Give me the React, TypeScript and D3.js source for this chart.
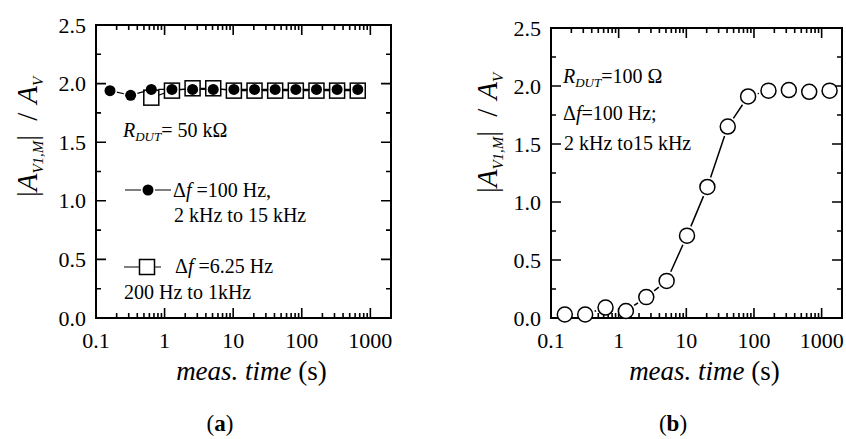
import * as d3 from "d3";

// measurement times (s)
const timesA = [0.16, 0.32, 0.64, 1.28, 2.56, 5.12, 10.24, 20.48, 40.96, 81.92, 163.84, 327.68, 655.36];
// df = 100 Hz, 2 kHz to 15 kHz (filled circles)
const circlesA = [1.94, 1.9, 1.95, 1.95, 1.95, 1.95, 1.95, 1.95, 1.95, 1.95, 1.95, 1.95, 1.95];
// df = 6.25 Hz, 200 Hz to 1 kHz (open squares), starts at 0.64 s
const timesSq = [0.64, 1.28, 2.56, 5.12, 10.24, 20.48, 40.96, 81.92, 163.84, 327.68, 655.36];
const squaresA = [1.88, 1.94, 1.96, 1.96, 1.94, 1.94, 1.94, 1.94, 1.94, 1.94, 1.94];

// panel (b): R_DUT = 100 ohm
const timesB = [0.16, 0.32, 0.64, 1.28, 2.56, 5.12, 10.24, 20.48, 40.96, 81.92, 163.84, 327.68, 655.36, 1310.72];
const valuesB = [0.03, 0.03, 0.09, 0.06, 0.18, 0.32, 0.71, 1.13, 1.65, 1.91, 1.96, 1.965, 1.95, 1.96];

const xTickLabels = ["0.1", "1", "10", "100", "1000"];
const yTickLabels = ["0.0", "0.5", "1.0", "1.5", "2.0", "2.5"];

const FONT = "'Liberation Serif', 'Times New Roman', serif";

type Box = { x0: number; x1: number; y0: number; y1: number };

// line segments that stop short of the markers
function gappedSegments(pts: [number, number][], gap: number) {
  const segs: string[] = [];
  for (let i = 0; i < pts.length - 1; i++) {
    const [ax, ay] = pts[i];
    const [bx, by] = pts[i + 1];
    const len = Math.hypot(bx - ax, by - ay);
    if (len <= 2 * gap + 1) continue;
    const ux = (bx - ax) / len;
    const uy = (by - ay) / len;
    segs.push(`M${ax + ux * gap},${ay + uy * gap}L${bx - ux * gap},${by - uy * gap}`);
  }
  return segs.join("");
}

function YLabel({ cx, cy }: { cx: number; cy: number }) {
  return (
    <text
      transform={`translate(${cx},${cy}) rotate(-90)`}
      textAnchor="middle"
      fontFamily={FONT}
      fontSize={29}
      fill="#000"
    >
      <tspan>|</tspan>
      <tspan fontStyle="italic">A</tspan>
      <tspan fontStyle="italic" fontSize={15} dy={6}>V1,M</tspan>
      <tspan dy={-6}>|</tspan>
      <tspan dx={14}>/</tspan>
      <tspan dx={9} fontStyle="italic">A</tspan>
      <tspan fontStyle="italic" fontSize={15} dy={6}>V</tspan>
    </text>
  );
}

function Frame({ box }: { box: Box }) {
  const x = d3.scaleLog().domain([0.1, 2000]).range([box.x0, box.x1]);
  const y = d3.scaleLinear().domain([0, 2.5]).range([box.y1, box.y0]);
  const decades = xTickLabels.map((t) => +t);
  const minors: number[] = [];
  decades.slice(0, -1).forEach((d) => {
    for (let k = 2; k <= 9; k++) minors.push(d * k);
  });
  const yMinor = d3.range(0.25, 2.5, 0.5);
  const ticks: string[] = [];
  decades.forEach((d) => {
    const px = x(d);
    ticks.push(`M${px},${box.y1}v-10M${px},${box.y0}v10`);
  });
  minors.forEach((d) => {
    const px = x(d);
    ticks.push(`M${px},${box.y1}v-5M${px},${box.y0}v5`);
  });
  yTickLabels.forEach((t) => {
    const py = y(+t);
    ticks.push(`M${box.x0},${py}h10M${box.x1},${py}h-10`);
  });
  yMinor.forEach((v) => {
    const py = y(v);
    ticks.push(`M${box.x0},${py}h5M${box.x1},${py}h-5`);
  });
  return (
    <g>
      <rect
        x={box.x0}
        y={box.y0}
        width={box.x1 - box.x0}
        height={box.y1 - box.y0}
        fill="none"
        stroke="#000"
        strokeWidth={2}
      />
      <path d={ticks.join("")} stroke="#000" strokeWidth={1.6} fill="none" />
      <g fontFamily={FONT} fontSize={22} fill="#000">
        {xTickLabels.map((t) => (
          <text key={t} x={x(+t)} y={box.y1 + 30} textAnchor="middle">
            {t}
          </text>
        ))}
        {yTickLabels.map((t) => (
          <text key={t} x={box.x0 - 10} y={y(+t) + 7.5} textAnchor="end">
            {t}
          </text>
        ))}
      </g>
      <text
        x={(box.x0 + box.x1) / 2 + 8}
        y={380}
        textAnchor="middle"
        fontFamily={FONT}
        fontSize={27}
        fill="#000"
      >
        <tspan fontStyle="italic">meas. time</tspan>
        <tspan> (s)</tspan>
      </text>
    </g>
  );
}

function PanelA() {
  const box: Box = { x0: 96, x1: 391, y0: 25, y1: 318 };
  const x = d3.scaleLog().domain([0.1, 2000]).range([box.x0, box.x1]);
  const y = d3.scaleLinear().domain([0, 2.5]).range([box.y1, box.y0]);
  const sqPts = timesSq.map((t, i) => [x(t), y(squaresA[i])] as [number, number]);
  const cPts = timesA.map((t, i) => [x(t), y(circlesA[i])] as [number, number]);
  const sq = 15;
  return (
    <g>
      <Frame box={box} />
      <YLabel cx={37} cy={137} />
      <path d={gappedSegments(sqPts, sq / 2)} stroke="#000" strokeWidth={1.2} />
      {sqPts.map(([px, py], i) => (
        <rect key={i} x={px - sq / 2} y={py - sq / 2} width={sq} height={sq} fill="#fff" stroke="#000" strokeWidth={1.5} />
      ))}
      <path d={gappedSegments(cPts, 7)} stroke="#000" strokeWidth={1.2} />
      {cPts.map(([px, py], i) => (
        <circle key={i} cx={px} cy={py} r={5.5} fill="#000" />
      ))}
      <g fontFamily={FONT} fontSize={20} fill="#000">
        <text x={123} y={137}>
          <tspan fontStyle="italic">R</tspan>
          <tspan fontStyle="italic" fontSize={13} dy={4}>DUT</tspan>
          <tspan dy={-4}>= 50 kΩ</tspan>
        </text>
        <path d="M125,190H141M155,190H171" stroke="#000" strokeWidth={1.2} />
        <circle cx={148} cy={190} r={5.5} fill="#000" />
        <text x={173} y={197}>
          <tspan>Δ</tspan>
          <tspan fontStyle="italic">f</tspan>
          <tspan> =100 Hz,</tspan>
        </text>
        <text x={174} y={222}>2 kHz to 15 kHz</text>
        <path d="M124,267H139.5M154.5,267H161" stroke="#000" strokeWidth={1.2} />
        <rect x={147 - sq / 2} y={267 - sq / 2} width={sq} height={sq} fill="#fff" stroke="#000" strokeWidth={1.5} />
        <text x={175} y={273}>
          <tspan>Δ</tspan>
          <tspan fontStyle="italic">f</tspan>
          <tspan> =6.25 Hz</tspan>
        </text>
        <text x={124} y={299}>200 Hz to 1kHz</text>
      </g>
      <text x={220} y={431} textAnchor="middle" fontFamily={FONT} fontSize={23} fill="#000">
        (<tspan fontWeight="bold">a</tspan>)
      </text>
    </g>
  );
}

function PanelB() {
  const box: Box = { x0: 551, x1: 842, y0: 28, y1: 318 };
  const x = d3.scaleLog().domain([0.1, 2000]).range([box.x0, box.x1]);
  const y = d3.scaleLinear().domain([0, 2.5]).range([box.y1, box.y0]);
  const pts = timesB.map((t, i) => [x(t), y(valuesB[i])] as [number, number]);
  return (
    <g>
      <Frame box={box} />
      <YLabel cx={497} cy={133} />
      <path d={gappedSegments(pts, 10)} stroke="#000" strokeWidth={1.5} />
      {pts.map(([px, py], i) => (
        <circle key={i} cx={px} cy={py} r={7.5} fill="#fff" stroke="#000" strokeWidth={1.5} />
      ))}
      <g fontFamily={FONT} fontSize={20} fill="#000">
        <text x={563} y={83}>
          <tspan fontStyle="italic">R</tspan>
          <tspan fontStyle="italic" fontSize={13} dy={4}>DUT</tspan>
          <tspan dy={-4}>=100 Ω</tspan>
        </text>
        <text x={563} y={120}>
          <tspan>Δ</tspan>
          <tspan fontStyle="italic">f</tspan>
          <tspan>=100 Hz;</tspan>
        </text>
        <text x={564} y={150}>2 kHz to15 kHz</text>
      </g>
      <text x={673} y={431} textAnchor="middle" fontFamily={FONT} fontSize={23} fill="#000">
        (<tspan fontWeight="bold">b</tspan>)
      </text>
    </g>
  );
}

export default function App() {
  return (
    <svg
      width={846}
      height={439}
      viewBox="0 0 846 439"
      style={{ position: "absolute", left: 0, top: 0, background: "#fff" }}
    >
      <rect width={846} height={439} fill="#fff" />
      <PanelA />
      <PanelB />
    </svg>
  );
}
